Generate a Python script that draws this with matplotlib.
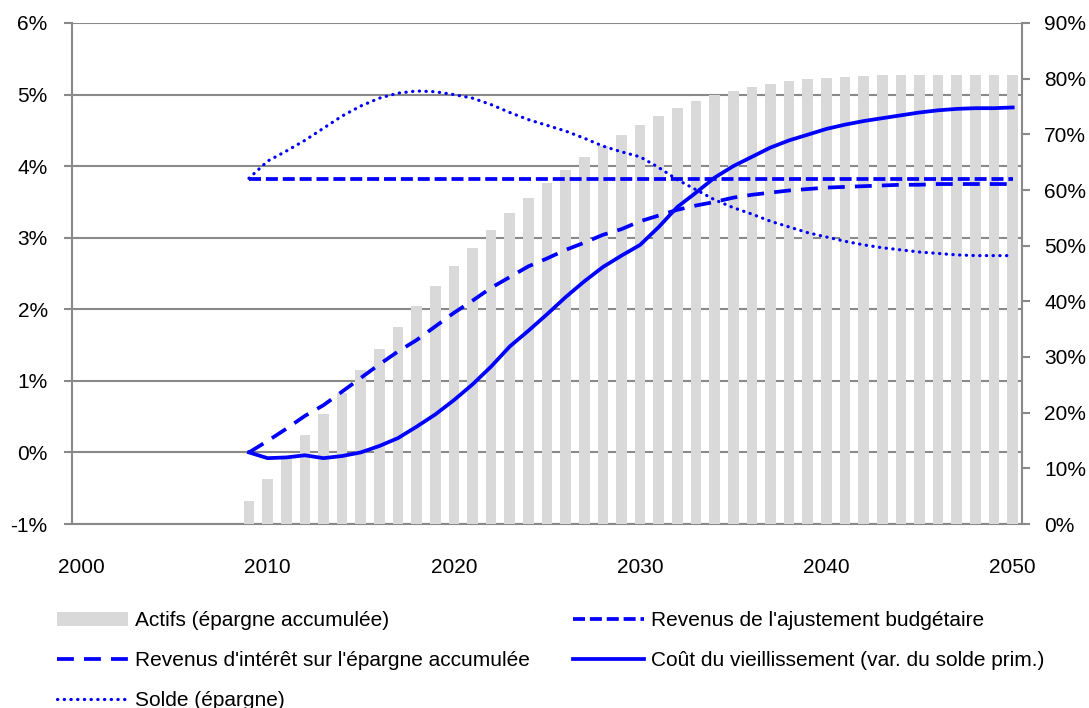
import numpy as np
import matplotlib
matplotlib.use("Agg")
from matplotlib import pyplot as plt
from matplotlib.patches import Patch
from matplotlib.lines import Line2D

plt.rcParams['font.family'] = ['Liberation Sans', 'DejaVu Sans']

# années (axe de catégories 2000-2050, séries à partir de 2009)
annees = np.arange(2009, 2051)

# actifs (épargne accumulée), % axe de droite
actifs = [4.1, 8.0, 11.8, 15.9, 19.8, 23.6, 27.6, 31.5, 35.4, 39.1,
          42.8, 46.3, 49.6, 52.8, 55.8, 58.6, 61.2, 63.6, 65.9, 67.9,
          69.8, 71.6, 73.3, 74.7, 75.9, 77.0, 77.8, 78.5, 79.0, 79.5,
          79.9, 80.1, 80.3, 80.5, 80.6, 80.7, 80.7, 80.7, 80.7, 80.7,
          80.7, 80.7]

# revenus de l'ajustement budgétaire, % axe de gauche
ajustement = [3.82] * 42

# revenus d'intérêt sur l'épargne accumulée
interet = [0.00, 0.16, 0.33, 0.51, 0.66, 0.85, 1.04, 1.23, 1.41, 1.57,
           1.76, 1.95, 2.12, 2.30, 2.45, 2.60, 2.71, 2.83, 2.93, 3.04,
           3.12, 3.23, 3.31, 3.39, 3.45, 3.50, 3.56, 3.60, 3.63, 3.66,
           3.68, 3.70, 3.71, 3.72, 3.73, 3.74, 3.74, 3.75, 3.75, 3.75,
           3.75, 3.75]

# coût du vieillissement (var. du solde prim.)
cout = [0.00, -0.08, -0.07, -0.04, -0.08, -0.05, 0.00, 0.09, 0.20, 0.36,
        0.53, 0.73, 0.95, 1.20, 1.48, 1.70, 1.93, 2.17, 2.39, 2.59,
        2.75, 2.90, 3.15, 3.43, 3.63, 3.84, 4.00, 4.13, 4.26, 4.36,
        4.44, 4.52, 4.58, 4.63, 4.67, 4.71, 4.75, 4.78, 4.80, 4.81,
        4.81, 4.82]

# solde (épargne)
solde = [3.83, 4.07, 4.21, 4.36, 4.53, 4.70, 4.84, 4.95, 5.02, 5.05,
         5.04, 5.00, 4.95, 4.86, 4.75, 4.65, 4.57, 4.49, 4.39, 4.28,
         4.20, 4.13, 3.98, 3.81, 3.67, 3.53, 3.42, 3.33, 3.23, 3.15,
         3.07, 3.01, 2.95, 2.90, 2.86, 2.83, 2.80, 2.78, 2.76, 2.75,
         2.75, 2.75]

gauche_ticks = np.arange(-1, 7)
droite_ticks = np.arange(0, 100, 10)
x_ticks = [2000, 2010, 2020, 2030, 2040, 2050]

bleu = "#0000FF"
gris = "#898989"
fs = 15

fig = plt.figure(figsize=(10.89, 7.08), dpi=100)
pos = [72 / 1089, 184 / 708, 950 / 1089, 501 / 708]

# axe principal : échelle de gauche + quadrillage
ax = fig.add_axes(pos)
ax.set_xlim(1999.5, 2050.5)
ax.set_ylim(-1, 6)
ax.set_yticks(gauche_ticks)
ax.set_yticklabels([f"{v}%" for v in gauche_ticks], fontsize=fs)
ax.set_xticks(x_ticks)
ax.set_xticklabels([str(v) for v in x_ticks], fontsize=fs)
ax.tick_params(axis='x', length=0, pad=24.5)
ax.tick_params(axis='y', length=6, width=1.5, color=gris, pad=11.5)
ax.grid(axis='y', color=gris, linewidth=1.5)
ax.set_axisbelow(True)
for s in ['top', 'right']:
    ax.spines[s].set_visible(False)
for s in ['left', 'bottom']:
    ax.spines[s].set_color(gris)
    ax.spines[s].set_linewidth(1.5)

# barres : échelle de droite
ax2 = ax.twinx()
ax2.set_position(pos)
ax2.bar(annees, actifs, width=0.57, color="#D9D9D9", zorder=1)
ax2.set_ylim(0, 90)
ax2.set_yticks(droite_ticks)
ax2.set_yticklabels([f"{v}%" for v in droite_ticks], fontsize=fs)
ax2.tick_params(axis='y', length=6, width=1.5, color=gris, pad=10)
for s in ['top', 'left', 'bottom']:
    ax2.spines[s].set_visible(False)
ax2.spines['right'].set_color(gris)
ax2.spines['right'].set_linewidth(1.5)

# courbes : échelle de gauche, par-dessus les barres
ax3 = ax.twinx()
ax3.set_position(pos)
ax3.set_ylim(-1, 6)
ax3.axis('off')
lw = 2.7
st_ajust = dict(color=bleu, lw=lw, dashes=(3.2, 1.3))
st_inter = dict(color=bleu, lw=lw, dashes=(4.5, 2.7))
st_cout = dict(color=bleu, lw=lw, solid_joinstyle='round')
st_solde = dict(color=bleu, lw=2.3, dashes=(0.1, 2.0), dash_capstyle='round')
ax3.plot(annees, ajustement, **st_ajust)
ax3.plot(annees, interet, **st_inter)
ax3.plot(annees, cout, **st_cout)
ax3.plot(annees, solde, **st_solde)

handles = [
    Patch(facecolor="#D9D9D9", edgecolor="none"),
    Line2D([], [], **st_inter),
    Line2D([], [], **st_solde),
    Line2D([], [], **st_ajust),
    Line2D([], [], **st_cout),
]
labels = [
    "Actifs (épargne accumulée)",
    "Revenus d'intérêt sur l'épargne accumulée",
    "Solde (épargne)",
    "Revenus de l'ajustement budgétaire",
    "Coût du vieillissement (var. du solde prim.)",
]
fig.legend(handles, labels, ncol=2, loc='upper left',
           bbox_to_anchor=(57 / 1089, 1 - 611 / 708), frameon=False,
           fontsize=fs, handlelength=3.4, handletextpad=0.35,
           borderpad=0, borderaxespad=0, labelspacing=1.0,
           columnspacing=2.05, handleheight=0.65)

plt.savefig("out.png", dpi=100)
